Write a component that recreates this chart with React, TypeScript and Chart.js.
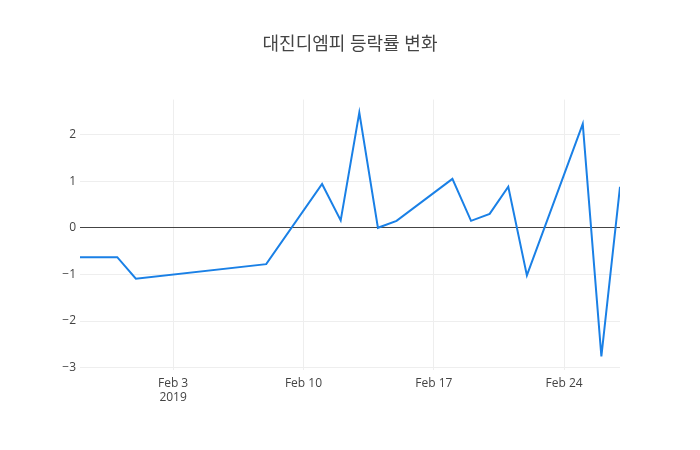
import React, { useRef, useEffect } from "react";
import Chart from "chart.js/auto";

// trading days and daily change (%)
const dates: string[] = [
	"2019-01-29", "2019-01-31", "2019-02-01", "2019-02-08", "2019-02-11",
	"2019-02-12", "2019-02-13", "2019-02-14", "2019-02-15", "2019-02-18",
	"2019-02-19", "2019-02-20", "2019-02-21", "2019-02-22", "2019-02-25",
	"2019-02-26", "2019-02-27",
];
const changes: number[] = [
	-0.63, -0.63, -1.09, -0.78, 0.94,
	0.16, 2.47, 0.0, 0.15, 1.05,
	0.15, 0.3, 0.88, -1.02, 2.23,
	-2.76, 0.88,
];
const xTickDates: string[] = ["2019-02-03", "2019-02-10", "2019-02-17", "2019-02-24"];
const xTickLabels: (string | string[])[] = [["Feb 3", "2019"], "Feb 10", "Feb 17", "Feb 24"];
const yTicks: number[] = [-3, -2, -1, 0, 1, 2];

const DAY = 86400000;
const base = Date.UTC(2019, 0, 29);
const toDay = (d: string) => (Date.parse(d + "T00:00:00Z") - base) / DAY;

function App() {
	const chartRef = useRef<HTMLCanvasElement>(null);
	const chartInstance = useRef<Chart | null>(null);

	useEffect(() => {
		document.body.style.margin = "0";
		if (chartInstance.current) {
			chartInstance.current.destroy();
			chartInstance.current = null;
		}
		if (!chartRef.current) return;
		const ctx = chartRef.current.getContext("2d");
		if (!ctx) return;

		const points = dates.map((d, i) => ({ x: toDay(d), y: changes[i] }));
		const tickDays = xTickDates.map(toDay);
		const font = { family: "'Open Sans', 'Noto Sans CJK KR', sans-serif", size: 12 };

		chartInstance.current = new Chart(ctx, {
			type: "line",
			data: {
				datasets: [
					{
						data: points,
						borderColor: "#1a80e6",
						borderWidth: 2,
						pointRadius: 0,
						tension: 0,
						fill: false,
					},
				],
			},
			options: {
				animation: false,
				responsive: false,
				plugins: {
					legend: { display: false },
					tooltip: { enabled: false },
					title: {
						display: true,
						text: "대진디엠피 등락률 변화",
						color: "#444",
						font: { family: "'Open Sans', 'Noto Sans CJK KR', sans-serif", size: 18, weight: "normal" },
						padding: { top: 34, bottom: 44 },
					},
				},
				scales: {
					x: {
						type: "linear",
						min: 0,
						max: toDay("2019-02-27"),
						grid: { color: "#eee", drawTicks: false },
						border: { display: false },
						ticks: {
							color: "#444",
							font,
							padding: 6,
							maxRotation: 0,
							callback: (v: any) => {
								const idx = tickDays.indexOf(Number(v));
								return idx >= 0 ? xTickLabels[idx] : "";
							},
						},
						afterBuildTicks: (s: any) => {
							s.ticks = tickDays.map((v) => ({ value: v }));
						},
						afterFit: (s: any) => {
							s.height = 80;
						},
					},
					y: {
						min: -3.05,
						max: 2.75,
						grid: {
							color: (c: any) => (c.tick && c.tick.value === 0 ? "#444" : "#eee"),
							drawTicks: false,
						},
						border: { display: false },
						ticks: {
							color: "#444",
							font,
							padding: 4,
							callback: (v: any) => (Number(v) < 0 ? "\u2212" + Math.abs(Number(v)) : String(v)),
						},
						afterBuildTicks: (s: any) => {
							s.ticks = yTicks.map((v) => ({ value: v }));
						},
						afterFit: (s: any) => {
							s.width = 80;
						},
					},
					yRight: {
						position: "right",
						display: true,
						grid: { display: false, drawTicks: false },
						border: { display: false },
						ticks: { display: false },
						afterFit: (s: any) => {
							s.width = 80;
						},
					},
				},
			},
		} as any);

		return () => {
			if (chartInstance.current) {
				chartInstance.current.destroy();
				chartInstance.current = null;
			}
		};
	}, []);

	return (
		<div style={{ width: 700, height: 450, background: "#fff" }}>
			<canvas ref={chartRef} width="700" height="450"></canvas>
		</div>
	);
}

export default App;
